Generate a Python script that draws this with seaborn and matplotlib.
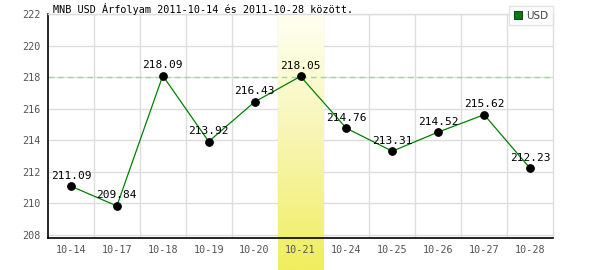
import numpy as np
import pandas as pd
import matplotlib
matplotlib.use("Agg")
import matplotlib.pyplot as plt
import seaborn as sns
from matplotlib.patches import Patch

dates = ["10-14", "10-17", "10-18", "10-19", "10-20", "10-21",
         "10-24", "10-25", "10-26", "10-27", "10-28"]
values = [211.09, 209.84, 218.09, 213.92, 216.43, 218.05,
          214.76, 213.31, 214.52, 215.62, 212.23]
highlight_date = "10-21"
ref_level = 218
title = "MNB USD Árfolyam 2011-10-14 és 2011-10-28 között."
series_name = "USD"
yticks = [208, 210, 212, 214, 216, 218, 220, 222]

sns.set_theme(style="white")
plt.rcParams["font.family"] = ["DejaVu Sans Mono", "DejaVu Sans"]

fig = plt.figure(figsize=(6, 2.7), dpi=100)
ax = fig.add_axes([48/600, 1-238/270, 505/600, 224/270])
ax.set_facecolor("none")

df = pd.DataFrame({"idx": np.arange(len(dates)), "val": values, "date": dates})

ax.set_xlim(-0.5, len(dates) - 0.5)
ax.set_ylim(207.81, 222)

# grid
for b in np.arange(0.5, len(dates) - 0.5, 1):
    ax.axvline(b, color="#dddddd", lw=1, zorder=0)
for t in yticks:
    ax.axhline(t, color="#dddddd", lw=1, zorder=0)

# highlight gradient column extending below the axes
hi = dates.index(highlight_date)
fig_bottom_data = ax.transData.inverted().transform(
    fig.transFigure.transform((0, 0)))[1]
grad = np.linspace(0, 1, 256).reshape(-1, 1)
cmap = matplotlib.colors.LinearSegmentedColormap.from_list(
    "hl", ["#fffff2", "#f7f5b0", "#f0ee5e"])
im = ax.imshow(grad, extent=(hi - 0.5, hi + 0.5, fig_bottom_data, 222),
               origin="upper", cmap=cmap, aspect="auto", zorder=0.5,
               clip_on=False)
ax.set_xlim(-0.5, len(dates) - 0.5)
ax.set_ylim(207.81, 222)

ax.axhline(ref_level, color="#a8d0a8", lw=1, ls=(0, (4, 3)), zorder=1)

sns.lineplot(data=df, x="idx", y="val", ax=ax, color="#008000", lw=0.9,
             marker="o", markersize=5.5, markerfacecolor="black",
             markeredgecolor="black", zorder=3)

for i, v in enumerate(values):
    ax.annotate(f"{v:.2f}", (i, v), xytext=(0, 4), textcoords="offset points",
                ha="center", va="bottom", fontsize=8, color="black", zorder=4)

ax.set_xticks(range(len(dates)))
ax.set_xticklabels(dates)
ax.set_yticks(yticks)
ax.set_yticklabels([str(t) for t in yticks])
ax.tick_params(axis="both", length=0, labelsize=7.3, colors="#555555", pad=5)
ax.set_xlabel("")
ax.set_ylabel("")

for s in ["top", "right"]:
    ax.spines[s].set_color("#dddddd")
    ax.spines[s].set_linewidth(1)
for s in ["left", "bottom"]:
    ax.spines[s].set_color("black")
    ax.spines[s].set_linewidth(1.2)

fig.text(53/600, 1 - 13/270, title, fontsize=7.3, color="black",
         ha="left", va="baseline")

handle = Patch(facecolor="#008000", edgecolor="#333333", lw=0.8)
leg = fig.legend([handle], [series_name], loc="upper right",
                 bbox_to_anchor=(553/600, 1 - 6/270), frameon=True,
                 fancybox=False, fontsize=7.5, handlelength=0.8,
                 handleheight=0.8, handletextpad=0.4, borderpad=0.45,
                 borderaxespad=0)
leg.get_frame().set_edgecolor("#dddddd")
leg.get_frame().set_linewidth(1)
for t in leg.get_texts():
    t.set_color("#444444")
    t.set_family("DejaVu Sans")

fig.savefig("out.png", dpi=100)
